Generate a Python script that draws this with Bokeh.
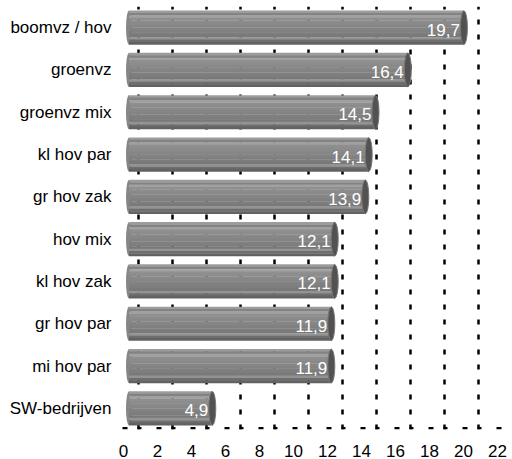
from bokeh.plotting import figure
from bokeh.models import (ColumnDataSource, FactorRange, Range1d, LinearAxis,
                          FixedTicker, Grid, Span)
from bokeh.transform import dodge
from bokeh.core.properties import value
from bokeh.embed import file_html
from bokeh.resources import INLINE

# Data
categories = ["boomvz / hov", "groenvz", "groenvz mix", "kl hov par", "gr hov zak",
              "hov mix", "kl hov zak", "gr hov par", "mi hov par", "SW-bedrijven"]
values = [19.7, 16.4, 14.5, 14.1, 13.9, 12.1, 12.1, 11.9, 11.9, 4.9]
tick_values = [0, 2, 4, 6, 8, 10, 12, 14, 16, 18, 20, 22]

labels = [f"{v:.1f}".replace(".", ",") for v in values]
source = ColumnDataSource(data=dict(cat=categories, val=values, lab=labels,
                                    zero=[0] * len(values)))

FONT = "Liberation Sans"
PX_PER_UNIT = 17.0
FRAME_W = 390

# bars sit on the middle plane; axis labels on the front plane; gridlines on the back wall
def plane_range(zero_px):
    start = -zero_px / PX_PER_UNIT
    return Range1d(start, start + FRAME_W / PX_PER_UNIT)

p = figure(width=512, height=459, output_backend="svg", toolbar_location=None,
           x_range=plane_range(10.5), y_range=FactorRange(*categories[::-1]),
           x_axis_location=None, min_border_left=118, min_border_right=4,
           min_border_top=6, min_border_bottom=30)
p.extra_x_ranges = {"front": plane_range(5.0), "back": plane_range(20.0)}
p.xgrid.visible = False
p.ygrid.visible = False
p.outline_line_color = None
p.background_fill_color = "white"
p.border_fill_color = "white"
p.y_range.range_padding = 0

# dotted back-wall gridlines
grid = Grid(dimension=0, x_range_name="back",
            ticker=FixedTicker(ticks=tick_values[:-1]),
            grid_line_color="black", grid_line_width=2.5,
            grid_line_dash="5 10", grid_line_dash_offset=0)
p.add_layout(grid)

# dotted floor line just above the bottom edge of the plot area
floor = Span(location=0.03, dimension="width", line_color="black", line_width=2.5,
             line_dash="5 10 4 15", line_dash_offset=30)
p.add_layout(floor)

# front axis with value labels
xaxis = LinearAxis(x_range_name="front", ticker=FixedTicker(ticks=tick_values))
xaxis.major_tick_line_color = None
xaxis.minor_tick_line_color = None
xaxis.axis_line_color = None
xaxis.major_label_text_font = FONT
xaxis.major_label_text_font_size = "17px"
xaxis.major_label_text_color = "black"
xaxis.major_label_standoff = 9
p.add_layout(xaxis, "below")

yaxis = p.yaxis[0]
yaxis.axis_line_color = None
yaxis.major_tick_line_color = None
yaxis.minor_tick_line_color = None
yaxis.major_label_text_font = FONT
yaxis.major_label_text_font_size = "17px"
yaxis.major_label_text_color = "black"
yaxis.major_label_standoff = 1

BAR_H = 0.8

# rounded left end of each cylinder
p.ellipse(x="zero", y="cat", width=6, height=BAR_H, width_units="screen",
          height_units="data", source=source, fill_color="#868686",
          line_color=None)

# cylinder body shaded in horizontal bands, top to bottom
band_colors = ["#9c9c9c", "#838383", "#a0a0a0", "#8f8f8f", "#8c8c8c", "#898989",
               "#868686", "#838383", "#808080", "#7d7d7d", "#797979", "#939393",
               "#6e6e6e", "#626262"]
n = len(band_colors)
bh = BAR_H / n
for i, c in enumerate(band_colors):
    off = BAR_H / 2 - (i + 0.5) * bh
    p.hbar(y=dodge("cat", off, range=p.y_range), left="zero", right="val",
           height=bh * 1.15, source=source, fill_color=c, line_color=None)

# dark end cap
p.ellipse(x="val", y="cat", width=7, height=BAR_H, width_units="screen",
          height_units="data", source=source, fill_color="#525252",
          line_color="#777777", line_width=1)

# value labels inside the bars
p.text(x="val", y="cat", text="lab", source=source, x_offset=-4, y_offset=2,
       text_align="right", text_baseline="middle", text_color="white",
       text_font=value(FONT), text_font_size="17px")

open("out.html", "w").write(file_html(p, INLINE))
